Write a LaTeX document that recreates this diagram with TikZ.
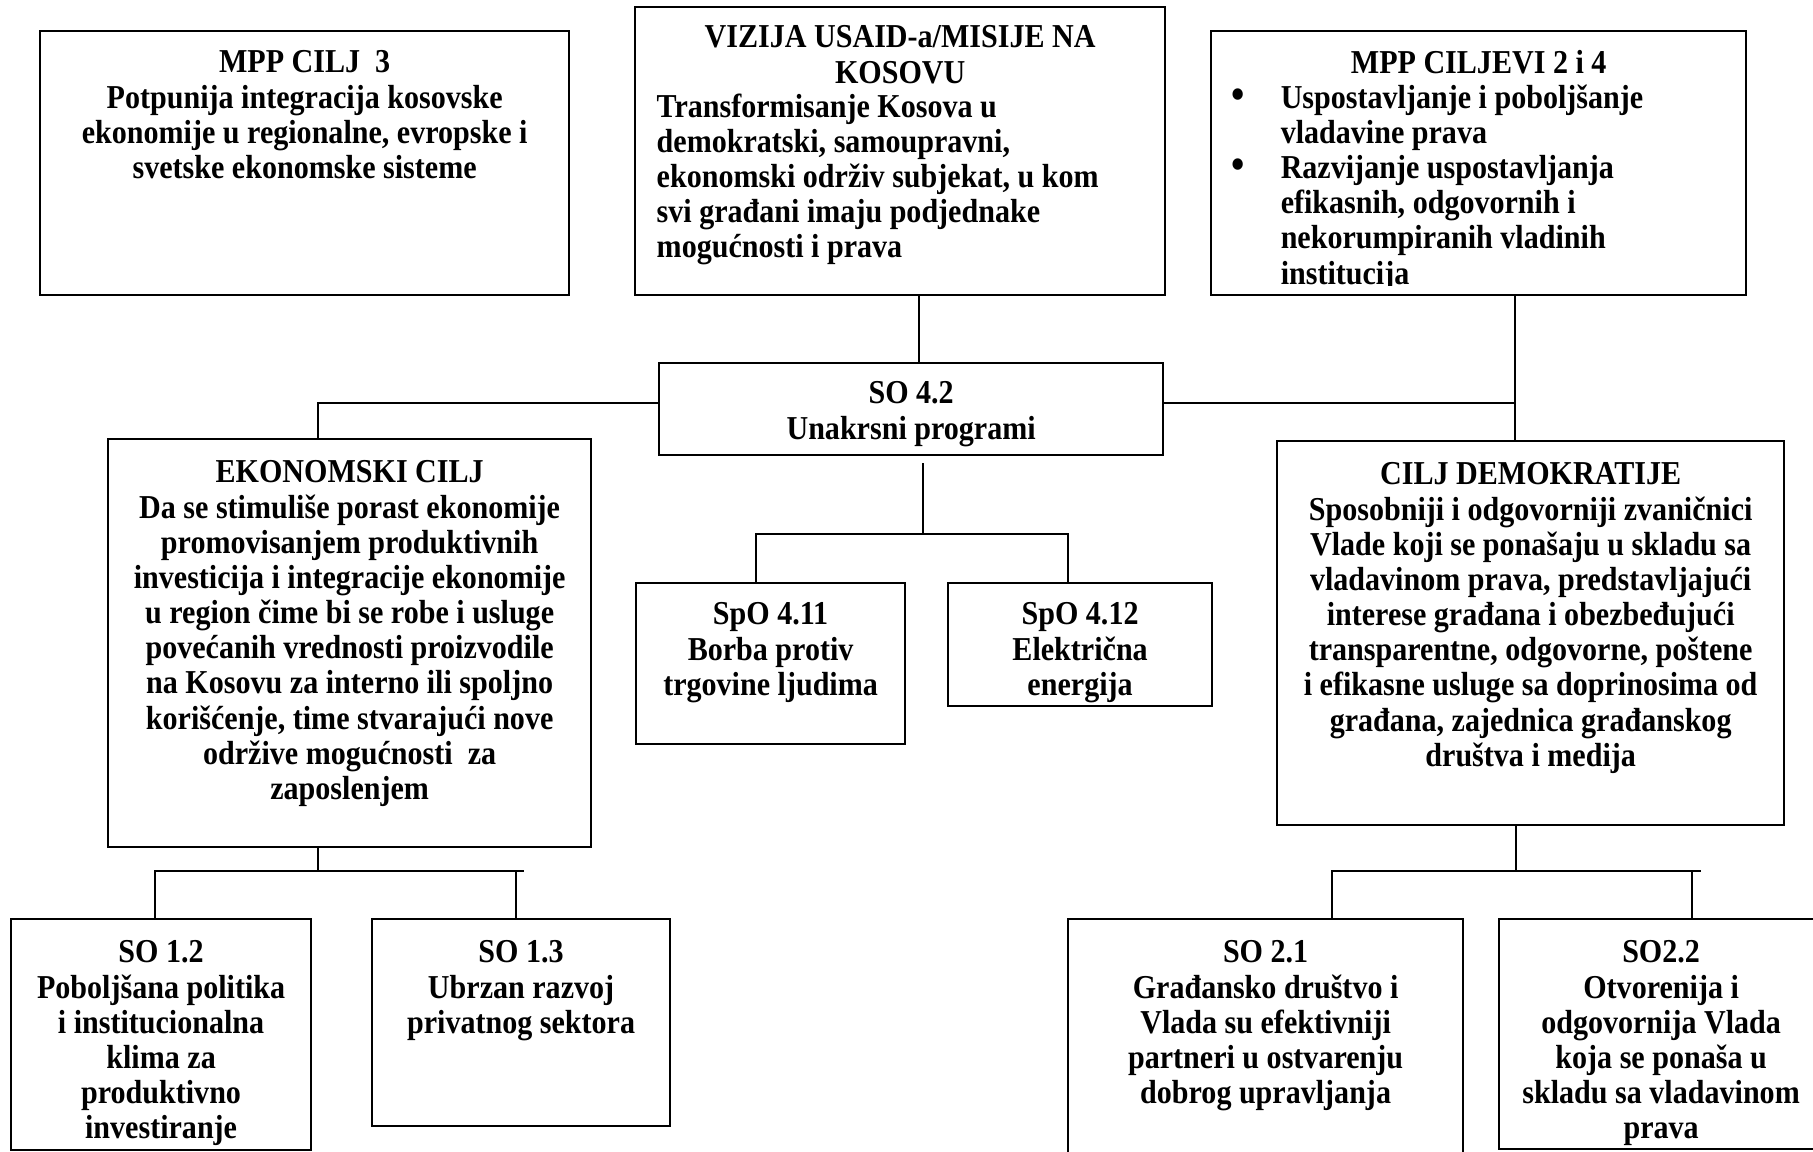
\documentclass[tikz,border=0pt]{standalone}
\usepackage{fontspec}
\setmainfont{Liberation Serif}[BoldFeatures={FakeStretch=0.9}]
\usetikzlibrary{positioning,calc}

\begin{document}
\begin{tikzpicture}[x=0.01cm,y=-0.01cm,
  box/.style={draw,line width=0.6pt,inner sep=0pt,outer sep=0pt,anchor=north west},
  boxtext/.style={inner sep=0pt,align=center,font=\fontsize{9.5}{10}\selectfont\bfseries},
  link/.style={line width=0.5pt}]
\useasboundingbox (0,0) rectangle (1813,1151);

% top row
\node[box,minimum width=5.29cm,minimum height=2.64cm] (mpp3) at (40,31) {};
\node[boxtext,below=0.19cm of mpp3.north] (mpp3txt)
  {MPP CILJ~~3\\Potpunija integracija kosovske\\ekonomije u regionalne, evropske i\\svetske ekonomske sisteme};

\node[box,minimum width=5.30cm,minimum height=2.88cm] (vizija) at (635,7) {};
\node[boxtext,below=0.18cm of vizija.north] (viztitle) {VIZIJA USAID-a/MISIJE NA\\KOSOVU};
\node[boxtext,align=left,anchor=north west] (viztxt) at (656,93)
  {Transformisanje Kosova u\\demokratski, samoupravni,\\ekonomski održiv subjekat, u kom\\svi građani imaju podjednake\\mogućnosti i prava};

\node[box,minimum width=5.35cm,minimum height=2.64cm] (mpp24) at (1211,31) {};
\node[boxtext,below=0.19cm of mpp24.north] (mpp24title) {MPP CILJEVI 2 i 4};
\begin{scope}
  \clip (mpp24.north west) rectangle ($(mpp24.south east)+(0,-10)$);
  \node[boxtext,align=left,anchor=north west] (mpp24list) at (1231,84)
    {\makebox[0.49cm][l]{\fontsize{12}{10}\selectfont\textbullet}Uspostavljanje i poboljšanje\\
     \hspace*{0.49cm}vladavine prava\\
     \makebox[0.49cm][l]{\fontsize{12}{10}\selectfont\textbullet}Razvijanje uspostavljanja\\
     \hspace*{0.49cm}efikasnih, odgovornih i\\
     \hspace*{0.49cm}nekorumpiranih vladinih\\
     \hspace*{0.49cm}institucija};
\end{scope}

% middle row
\node[box,minimum width=5.04cm,minimum height=0.92cm] (so42) at (659,363) {};
\node[boxtext,below=0.18cm of so42.north] (so42txt) {SO 4.2\\Unakrsni programi};

\node[box,minimum width=4.83cm,minimum height=4.08cm] (ekon) at (108,439) {};
\node[boxtext,below=0.21cm of ekon.north] (ekontxt)
  {EKONOMSKI CILJ\\Da se stimuliše porast ekonomije\\promovisanjem produktivnih\\investicija i integracije ekonomije\\u region čime bi se robe i usluge\\povećanih vrednosti proizvodile\\na Kosovu za interno ili spoljno\\korišćenje, time stvarajući nove\\održive mogućnosti~~za\\zaposlenjem};

\node[box,minimum width=5.07cm,minimum height=3.84cm] (dem) at (1277,441) {};
\node[boxtext,below=0.21cm of dem.north] (demtxt)
  {CILJ DEMOKRATIJE\\Sposobniji i odgovorniji zvaničnici\\Vlade koji se ponašaju u skladu sa\\vladavinom prava, predstavljajući\\interese građana i obezbeđujući\\transparentne, odgovorne, poštene\\i efikasne usluge sa doprinosima od\\građana, zajednica građanskog\\društva i medija};

\node[box,minimum width=2.69cm,minimum height=1.61cm] (spo411) at (636,583) {};
\node[boxtext,below=0.19cm of spo411.north] (spo411txt) {SpO 4.11\\Borba protiv\\trgovine ljudima};

\node[box,minimum width=2.64cm,minimum height=1.23cm] (spo412) at (948,583) {};
\node[boxtext,below=0.19cm of spo412.north] (spo412txt) {SpO 4.12\\Električna\\energija};

% bottom row
\node[box,minimum width=3.00cm,minimum height=2.31cm] (so12) at (11,919) {};
\node[boxtext,below=0.21cm of so12.north] (so12txt)
  {SO 1.2\\Poboljšana politika\\i institucionalna\\klima za\\produktivno\\investiranje};

\node[box,minimum width=2.98cm,minimum height=2.07cm] (so13) at (372,919) {};
\node[boxtext,below=0.21cm of so13.north] (so13txt) {SO 1.3\\Ubrzan razvoj\\privatnog sektora};

\node[box,minimum width=3.95cm,minimum height=2.40cm] (so21) at (1068,919) {};
\node[boxtext,below=0.21cm of so21.north] (so21txt)
  {SO 2.1\\Građansko društvo i\\Vlada su efektivniji\\partneri u ostvarenju\\dobrog upravljanja};

\node[box,minimum width=3.24cm,minimum height=2.30cm] (so22) at (1499,919) {};
\node[boxtext,below=0.21cm of so22.north] (so22txt)
  {SO2.2\\Otvorenija i\\odgovornija Vlada\\koja se ponaša u\\skladu sa vladavinom\\prava};

% connectors
\coordinate (vizout) at (919,0);
\draw[link] (vizija.south -| vizout) -- (so42.north -| vizout);

\coordinate (ekonin) at (318,403);
\draw[link] (so42.west |- ekonin) -- (ekonin) -- (ekonin |- ekon.north);
\coordinate (demin) at (1515,403);
\draw[link] (so42.east |- demin) -- (demin);
\draw[link] (mpp24.south -| demin) -- (dem.north -| demin);

\coordinate (sobus) at (923,534);
\coordinate (spoL) at (756,534);
\coordinate (spoR) at (1068,534);
\draw[link] ($(so42.south -| sobus)+(0,8)$) -- (sobus);
\draw[link] (spoL |- spo411.north) -- (spoL) -- (spoR) -- (spoR |- spo412.north);

\coordinate (ekbus) at (318,871);
\coordinate (so12in) at (155,871);
\coordinate (so13in) at (516,871);
\coordinate (ekend) at (524,871);
\draw[link] (ekon.south -| ekbus) -- (ekbus);
\draw[link] (so12in |- so12.north) -- (so12in) -- (ekend);
\draw[link] (so13in) -- (so13in |- so13.north);

\coordinate (dembus) at (1516,871);
\coordinate (so21in) at (1332,871);
\coordinate (so22in) at (1692,871);
\coordinate (demend) at (1701,871);
\draw[link] (dem.south -| dembus) -- (dembus);
\draw[link] (so21in |- so21.north) -- (so21in) -- (demend);
\draw[link] (so22in) -- (so22in |- so22.north);
\end{tikzpicture}
\end{document}
